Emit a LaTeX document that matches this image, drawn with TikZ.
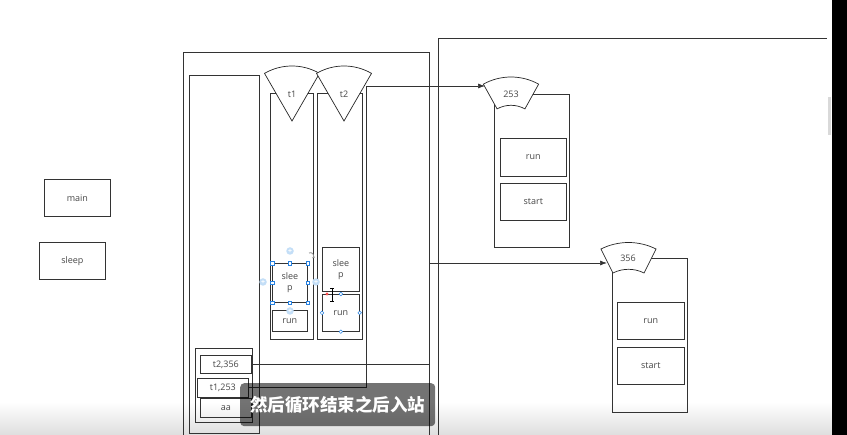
\documentclass[tikz,border=0pt]{standalone}
\usepackage{fontspec}
\setmainfont{Open Sans}
\newfontfamily\cjk{Noto Sans CJK SC}
\usetikzlibrary{arrows.meta}
\definecolor{selblue}{RGB}{40,130,225}
\definecolor{hlblue}{RGB}{195,222,247}
\newcommand\rb[6]{\node[box,anchor=north west,minimum width={(#4-#2)*1pt},minimum height={(#5-#3)*1pt}] (#1) at (#2,#3) {#6};}
\begin{document}
\begin{tikzpicture}[x=1pt,y=-1pt,
  box/.style={draw=black!80,line width=0.7pt,inner sep=0pt,align=center,
    font=\fontsize{9}{11}\selectfont,text=black!72},
  ln/.style={draw=black!80,line width=0.7pt},
  fan/.style={draw=black!85,line width=0.7pt,fill=white},
  lbl/.style={font=\fontsize{9}{10}\selectfont,text=black!72,inner sep=0pt},
  arr/.style={ln,-{Latex[length=7pt,width=5pt]}},
  hs/.style={draw=selblue,fill=white,line width=0.5pt,minimum size=3.6pt,inner sep=0pt},
  hc/.style={circle,fill=hlblue,draw=none,minimum size=7.5pt,inner sep=0pt,
    text=white,font=\bfseries\fontsize{7}{7}\selectfont}]
\useasboundingbox (0,0) rectangle (847,435);
\clip (0,0) rectangle (847,435);
\fill[white] (0,0) rectangle (847,435);
\shade[top color=white,bottom color=black!13] (0,402) rectangle (832,435);

% left loose boxes
\rb{main}{44}{179}{110}{216}{main}
\rb{sleep}{39}{242}{105}{279}{sleep}

% left big frame
\rb{outer}{183}{52}{429}{460}{}
\rb{stack}{189}{75}{259}{433}{}
\rb{t1col}{270}{93}{313}{339}{}
\rb{t2col}{317}{93}{362}{339}{}

% thread frames
\rb{t1s}{272}{263}{307}{302}{slee\\p}
\rb{t1r}{272}{310}{307}{331}{run}
\rb{t2s}{322}{247}{359}{291}{slee\\p}
\rb{t2r}{322}{294}{359}{331}{run}

% stack frames
\rb{frm}{195}{348}{252}{422}{}
\rb{f1}{200}{355}{251}{373}{t2,356}
\rb{f2}{197}{378}{248}{397}{t1,253}
\rb{f3}{200}{398}{251}{417}{aa}

% right heap frame
\draw[ln] (438,460) |- (827,38);

% object 253
\rb{o253}{494}{94}{569}{247}{}
\rb{r253}{500}{138}{566}{176}{run}
\rb{s253}{500}{183}{566}{220}{start}
% object 356
\rb{o356}{612}{258}{687}{412}{}
\rb{r356}{617}{302}{684}{339}{run}
\rb{s356}{617}{347}{684}{384}{start}

% thread fans
\coordinate (ap1) at (292,121);
\coordinate (ap2) at (344,121);
\draw[fan] (ap1) -- ++(60:55pt) arc[start angle=60,end angle=120,radius=55pt] -- cycle;
\draw[fan] (ap2) -- ++(60:55pt) arc[start angle=60,end angle=120,radius=55pt] -- cycle;
\node[lbl] (t1) at (292,94) {t1};
\node[lbl] (t2) at (344,94) {t2};

% object header shapes
\coordinate (c253) at (511,134);
\draw[fan] ([shift={(61:57pt)}]c253) arc[start angle=61,end angle=119,radius=57pt]
  -- ([shift={(119:28.7pt)}]c253) arc[start angle=119,end angle=61,radius=28.7pt] -- cycle;
\node[lbl] (h253) at (511,94) {253};
\coordinate (c356) at (628.5,304);
\draw[fan] ([shift={(63.4:61.5pt)}]c356) arc[start angle=63.4,end angle=116.6,radius=61.5pt]
  -- ([shift={(116.6:34.7pt)}]c356) arc[start angle=116.6,end angle=63.4,radius=34.7pt] -- cycle;
\node[lbl] (h356) at (628,258) {356};

% references
\coordinate (k1) at (366,86);
\coordinate (a253) at (485,86);
\draw[arr] (f2.east) -| (k1) -- (a253);
\coordinate (k2) at (429,263);
\coordinate (a356) at (607,263);
\draw[arr] (f1.east) -| (k2) -- (a356);

% selection handles
\foreach \a in {north west,north,north east,east,south east,south,south west,west}
  \node[hs] at (t1s.\a) {};
\node[hc] at (290,251) {+};
\node[hc] at (263,282) {+};
\node[hc] at (316,282) {+};
\node[hc] at (290,311) {+};
\draw[black!45,line width=0.8pt,-{Latex[length=2.5pt,width=2.5pt]}] (309,253) arc[start angle=120,end angle=-60,radius=3pt];
\foreach \a in {north,east,south,west}
  \node[hs,circle] at (t2r.\a) {};
\fill[red!70] (327,294) circle (1.6pt);
\draw[black,line width=0.9pt] (332,288) -- (332,301);
\draw[black,line width=0.6pt] (330,288) -- (334,288) (330,301) -- (334,301);

% right side strip
\fill[black!15] (828,97) rectangle (831,135);
\fill[black] (832,0) rectangle (847,435);

% caption overlay
\node[fill=black,fill opacity=0.55,text opacity=1,rounded corners=4pt,anchor=north west,
  minimum width=195pt,minimum height=43pt,inner sep=0pt,text=white,
  font=\cjk\bfseries\fontsize{17.5}{20}\selectfont] (cap) at (240,383) {然后循环结束之后入站};
\end{tikzpicture}
\end{document}
